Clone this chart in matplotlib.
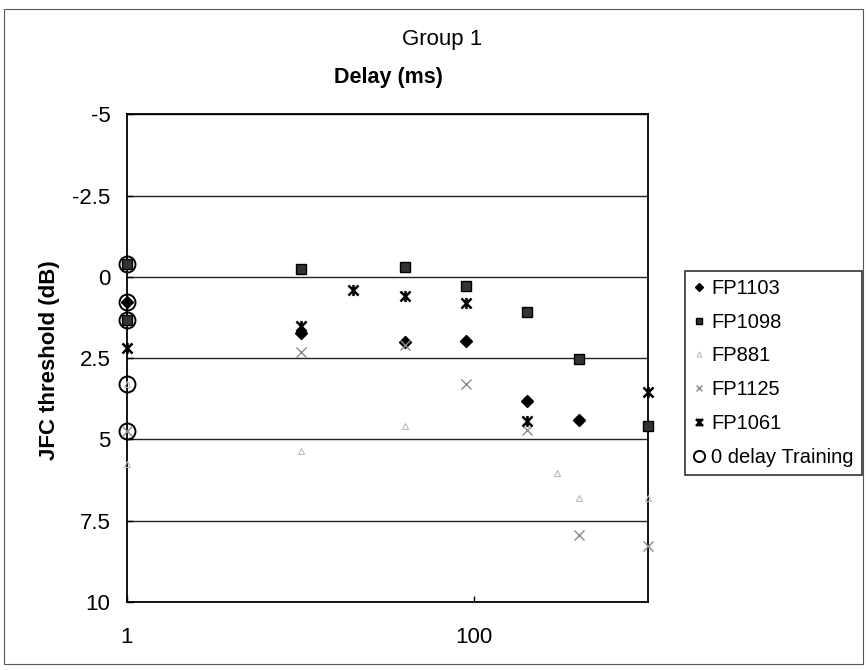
import matplotlib
matplotlib.use("Agg")
import matplotlib.pyplot as plt
from matplotlib.patches import Rectangle
from matplotlib.path import Path
from matplotlib.ticker import FixedLocator, FixedFormatter, NullLocator

plt.rcParams["font.family"] = ["Liberation Sans", "DejaVu Sans"]

# -------------------------
#  data
# -------------------------
fp1103_x = [1, 10, 40, 90, 200, 400]
fp1103_y = [0.78, 1.73, 1.99, 1.98, 3.82, 4.40]

fp1098_x = [1, 1, 10, 40, 90, 200, 400, 1000]
fp1098_y = [-0.40, 1.31, -0.25, -0.32, 0.29, 1.07, 2.52, 4.57]

fp881_x = [1, 1, 10, 40, 300, 400, 1000]
fp881_y = [3.29, 5.75, 5.35, 4.60, 6.03, 6.81, 6.80]

fp1125_x = [1, 10, 40, 90, 200, 400, 1000]
fp1125_y = [4.73, 2.32, 2.10, 3.29, 4.70, 7.93, 8.27]

fp1061_x = [1, 10, 20, 40, 90, 200, 1000]
fp1061_y = [2.20, 1.50, 0.39, 0.59, 0.81, 4.42, 3.53]

train_x = [1, 1, 1, 1, 1]
train_y = [-0.40, 0.78, 1.31, 3.29, 4.73]

y_ticks = [-5, -2.5, 0, 2.5, 5, 7.5, 10]
y_labels = ["-5", "-2.5", "0", "2.5", "5", "7.5", "10"]
x_ticks = [1, 100]
x_labels = ["1", "100"]

# Excel の「*」マーカー（X + 縦線）
star_path = Path([(-1, -1), (1, 1), (-1, 1), (1, -1), (0, -1.1), (0, 1.1)],
                 [Path.MOVETO, Path.LINETO, Path.MOVETO, Path.LINETO,
                  Path.MOVETO, Path.LINETO])

# -------------------------
#  figure
# -------------------------
W, H = 867, 670
fig = plt.figure(figsize=(W / 100, H / 100), dpi=100)
fig.patch.set_facecolor("white")

# chart area border
fig.add_artist(Rectangle((4 / W, 1 - 664 / H), 859 / W, 655 / H,
                         transform=fig.transFigure, fill=False,
                         edgecolor="#555555", linewidth=0.8))

ax = fig.add_axes([127 / W, 1 - 602 / H, 521 / W, 487.5 / H])

common = dict(linestyle="none", clip_on=False, zorder=3)
ax.plot(train_x, train_y, marker="o", markersize=11.5, markerfacecolor="none",
        markeredgecolor="black", markeredgewidth=1.4, label="0 delay Training",
        **common)
ax.plot(fp1103_x, fp1103_y, marker="D", markersize=6, color="black",
        label="FP1103", **common)
ax.plot(fp1098_x, fp1098_y, marker="s", markersize=6.5, markerfacecolor="#333333",
        markeredgecolor="black", label="FP1098", **common)
ax.plot(fp881_x, fp881_y, marker="^", markersize=5, markerfacecolor="none",
        markeredgecolor="#bbbbbb", markeredgewidth=0.8, label="FP881", **common)
ax.plot(fp1125_x, fp1125_y, marker="x", markersize=7, color="#8a8a8a",
        markeredgewidth=1.0, label="FP1125", **common)
ax.plot(fp1061_x, fp1061_y, marker=star_path, markersize=8, color="black",
        markeredgewidth=1.8, label="FP1061", **common)

ax.set_xscale("log")
ax.set_xlim(1, 1000)
ax.xaxis.set_major_locator(FixedLocator(x_ticks))
ax.xaxis.set_major_formatter(FixedFormatter(x_labels))
ax.xaxis.set_minor_locator(NullLocator())

ax.set_ylim(10, -5)
ax.yaxis.set_major_locator(FixedLocator(y_ticks))
ax.yaxis.set_major_formatter(FixedFormatter(y_labels))

ax.grid(True, axis="y", color="#222222", linewidth=1.0)
ax.set_axisbelow(True)
for s in ax.spines.values():
    s.set_color("black")
    s.set_linewidth(1.3)

ax.tick_params(axis="both", direction="in", length=4, width=1, labelsize=16,
               colors="black")
ax.tick_params(axis="y", pad=12)
ax.tick_params(axis="x", pad=18)

# titles
fig.text(442 / W, 1 - 40 / H, "Group 1", ha="center", va="center", fontsize=16)
fig.text(388 / W, 1 - 78 / H, "Delay (ms)", ha="center", va="center",
         fontsize=15.5, fontweight="bold")
fig.text(50 / W, 1 - 360 / H, "JFC threshold (dB)", ha="center", va="center",
         rotation=90, fontsize=16, fontweight="bold")

# legend in Excel order
handles, labels = ax.get_legend_handles_labels()
order = ["FP1103", "FP1098", "FP881", "FP1125", "FP1061", "0 delay Training"]
hmap = dict(zip(labels, handles))
leg = fig.legend([hmap[k] for k in order], order, loc="upper left",
                 bbox_to_anchor=(685 / W, 1 - 271 / H), fontsize=14.5,
                 frameon=True, fancybox=False, edgecolor="black",
                 handlelength=0.6, handletextpad=0.3, labelspacing=0.73,
                 borderpad=0.4, borderaxespad=0, markerscale=0.7)
leg.get_frame().set_linewidth(1.2)

fig.savefig("out.png", dpi=100)
